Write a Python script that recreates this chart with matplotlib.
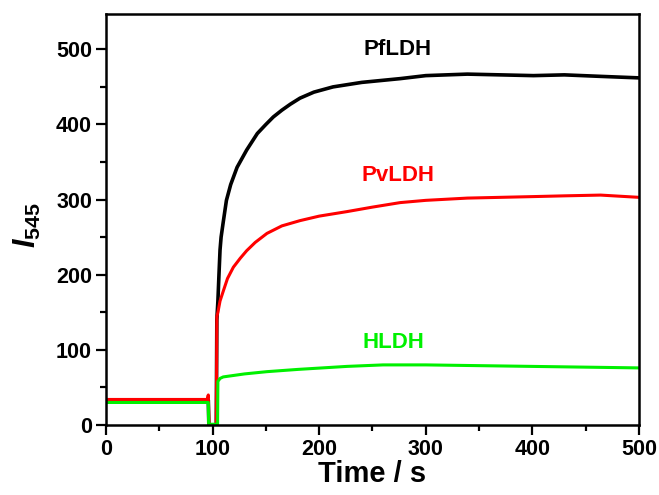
import matplotlib
matplotlib.use("Agg")
import matplotlib.pyplot as plt
from matplotlib.ticker import MultipleLocator

plt.rcParams['font.family'] = ['Liberation Sans', 'DejaVu Sans']
plt.rcParams['font.weight'] = 'bold'
plt.rcParams['mathtext.fontset'] = 'custom'
plt.rcParams['mathtext.it'] = 'Liberation Sans:italic:bold'
plt.rcParams['mathtext.rm'] = 'Liberation Sans:bold'

# PfLDH trace (black)
t_pf = [0, 96, 96.5, 103.5, 104, 105, 106, 107, 108, 110, 113, 117, 123, 132,
        142, 150, 157, 165, 173, 182, 195, 213, 240, 276, 300, 339, 370, 401,
        430, 464, 500]
pf = [33, 33, 0, 0, 140, 165, 200, 233, 250, 270, 299, 320, 343, 366,
      388, 400, 410, 419, 427, 435, 443, 450, 456, 461, 465, 467, 466, 465,
      466, 464, 462]

# PvLDH trace (red)
t_pv = [0, 95, 96, 96.6, 103.5, 104, 105, 107, 110, 114, 119.5, 126, 132, 140,
        151, 165, 182, 200, 226, 250, 276, 300, 339, 370, 401, 430, 464, 500]
pv = [34, 34, 40, 0, 0, 144, 150, 165, 178, 195, 210, 222, 232, 243,
      255, 265, 272, 278, 284, 290, 296, 299, 302, 303, 304, 305, 306, 303]

# HLDH trace (green)
t_h = [0, 96, 96.3, 104.7, 105, 107, 110, 120, 130, 151, 180, 226, 260, 300,
       350, 400, 450, 500]
h = [30, 30, 1, 1, 58, 62, 64, 66, 68, 71, 74, 78, 80, 80,
     79, 78, 77, 76]

fig = plt.figure(figsize=(6.59, 4.95), dpi=100)
ax = fig.add_axes([0.1608, 0.1414, 0.8088, 0.8303])

ax.plot(t_pf, pf, color='black', lw=2.6)
ax.plot(t_pv, pv, color='#ff0000', lw=2.2)
ax.plot(t_h, h, color='#00f000', lw=2.2)

ax.text(274, 500, 'PfLDH', color='black', fontsize=16, fontweight='bold',
        ha='center', va='center')
ax.text(274, 332, 'PvLDH', color='#ff0000', fontsize=16, fontweight='bold',
        ha='center', va='center')
ax.text(270, 110, 'HLDH', color='#00f000', fontsize=16, fontweight='bold',
        ha='center', va='center')

ax.set_xlim(0, 500)
ax.set_ylim(0, 547)
ax.xaxis.set_major_locator(MultipleLocator(100))
ax.xaxis.set_minor_locator(MultipleLocator(50))
ax.yaxis.set_major_locator(MultipleLocator(100))
ax.yaxis.set_minor_locator(MultipleLocator(50))
ax.tick_params(which='major', direction='out', length=7, width=1.6,
               labelsize=15.5, pad=3)
ax.tick_params(which='minor', direction='out', length=4, width=1.6)
for lab in ax.get_xticklabels() + ax.get_yticklabels():
    lab.set_fontweight('bold')
for s in ax.spines.values():
    s.set_linewidth(1.8)

ax.set_xlabel('Time / s', fontsize=21, fontweight='bold')
ax.xaxis.set_label_coords(0.5, -0.085)
ax.set_ylabel(r'$I_{545}$', fontsize=22)
ax.yaxis.set_label_coords(-0.118, 0.485)

fig.savefig('out.png', dpi=100)
